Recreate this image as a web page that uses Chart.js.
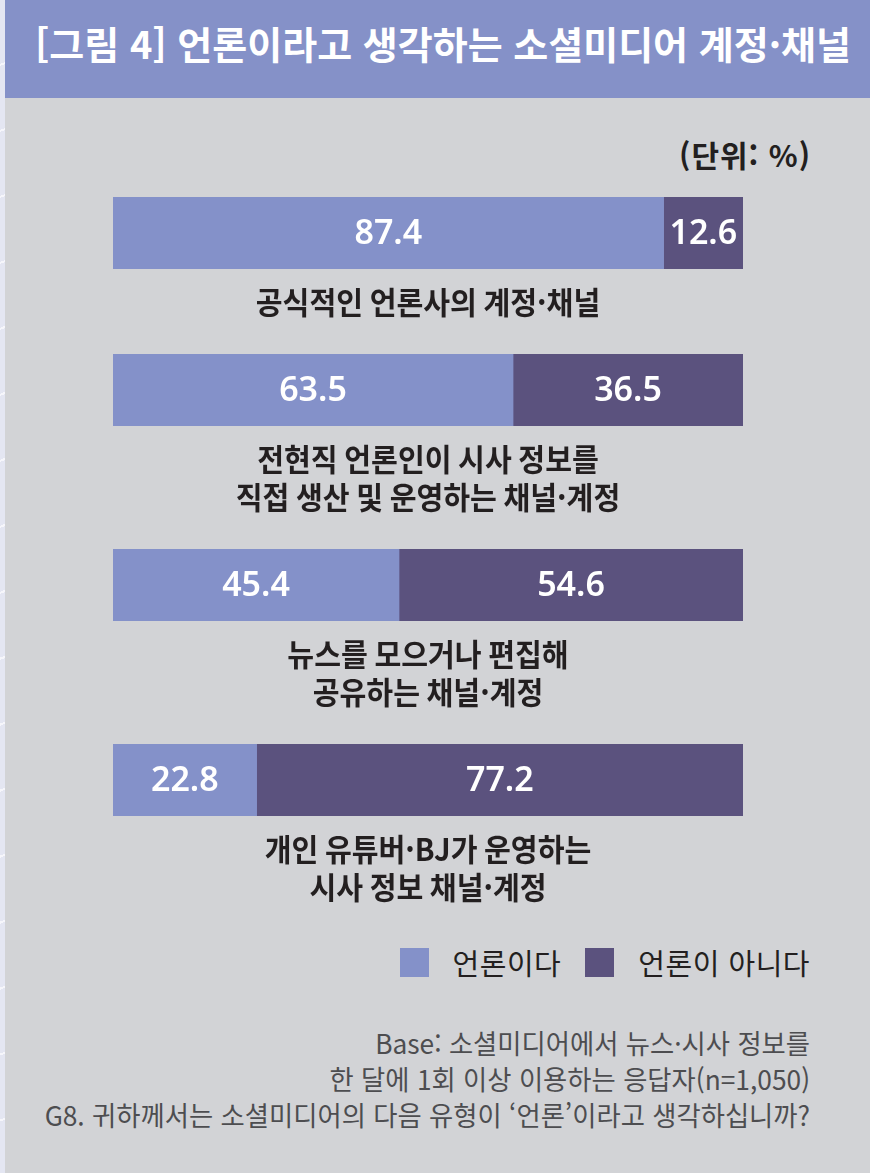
<!DOCTYPE html>
<html lang="ko">
<head>
<meta charset="utf-8">
<title>언론이라고 생각하는 소셜미디어 계정·채널</title>
<script src="https://cdn.jsdelivr.net/npm/chart.js@4.4.1/dist/chart.umd.min.js"></script>
<style>
  html, body { margin: 0; padding: 0; }
  body {
    width: 870px; height: 1173px; position: relative; overflow: hidden;
    background: #d2d3d6;
    font-family: "Noto Sans CJK KR", "Noto Sans", sans-serif;
    color: #231f20;
  }
  #stripe {
    position: absolute; left: 0; top: 0; width: 5px; height: 1173px;
    background: repeating-linear-gradient(160deg, #e4e6f2 0 60px, #f6f6fb 60px 62px);
  }
  #header {
    position: absolute; left: 5px; top: 0; width: 865px; height: 98px;
    background: #8591c8;
  }
  #title {
    position: absolute; left: 35px; top: 23px; line-height: 40px;
    font-size: 38px; font-weight: 700; color: #fff; white-space: nowrap;
  }
  #unit {
    position: absolute; right: 59px; top: 136px; line-height: 36px;
    font-size: 30px; font-weight: 700; letter-spacing: 1px;
  }
  #rows { position: absolute; left: 113px; top: 197px; width: 630px; }
  .row { position: relative; width: 630px; margin-bottom: 35px; }
  #legend {
    position: absolute; right: 60px; top: 945px; height: 34px;
    display: flex; align-items: center;
  }
  #legend .sw { width: 29px; height: 29px; margin-right: 24px; }
  #legend .tx { font-size: 29px; line-height: 34px; letter-spacing: 0.5px; margin-right: 24px; }
  #legend .tx:last-child { margin-right: 0; }
  #note {
    position: absolute; right: 60px; top: 1025px; text-align: right;
    color: #4d4d50; font-size: 27px; line-height: 36px;
    transform: scaleX(0.975); transform-origin: right;
  }
  #note div { white-space: nowrap; }
</style>
</head>
<body>
<div id="stripe"></div>
<div id="header"></div>
<div id="title">[그림 4] 언론이라고 생각하는 소셜미디어 계정·채널</div>
<div id="unit">(단위: %)</div>
<div id="rows"></div>
<div id="legend"></div>
<div id="note">
  <div>Base: 소셜미디어에서 뉴스·시사 정보를</div>
  <div>한 달에 1회 이상 이용하는 응답자(n=1,050)</div>
  <div>G8. 귀하께서는 소셜미디어의 다음 유형이 ‘언론’이라고 생각하십니까?</div>
</div>

<script>
// Chart data
const categories = [
    ['공식적인 언론사의 계정·채널'],
    ['전현직 언론인이 시사 정보를', '직접 생산 및 운영하는 채널·계정'],
    ['뉴스를 모으거나 편집해', '공유하는 채널·계정'],
    ['개인 유튜버·BJ가 운영하는', '시사 정보 채널·계정']
];
const seriesNames = ['언론이다', '언론이 아니다'];
const isPress = [87.4, 63.5, 45.4, 22.8];
const notPress = [12.6, 36.5, 54.6, 77.2];
const seriesColors = ['#8491c9', '#5b527e'];

const BAR_H = 72;
const LINE_H = 38;
const LABEL_GAP = 12;

// White value text in the middle of each segment
const valueLabels = {
    id: 'valueLabels',
    afterDatasetsDraw(chart) {
        const ctx = chart.ctx;
        ctx.save();
        ctx.fillStyle = '#ffffff';
        ctx.font = '600 34px "Noto Sans", sans-serif';
        ctx.textAlign = 'center';
        ctx.textBaseline = 'middle';
        chart.data.datasets.forEach((ds, di) => {
            chart.getDatasetMeta(di).data.forEach((bar, j) => {
                const c = bar.getCenterPoint();
                ctx.fillText(ds.data[j].toFixed(1), c.x, c.y + 1);
            });
        });
        ctx.restore();
    }
};

// Category name centred under the bar, one or two lines
const categoryLabel = {
    id: 'categoryLabel',
    afterDraw(chart) {
        const ctx = chart.ctx;
        const area = chart.chartArea;
        const lines = chart.data.labels[0];
        const cx = (area.left + area.right) / 2;
        ctx.save();
        ctx.fillStyle = '#231f20';
        ctx.font = '700 31px "Noto Sans CJK KR", sans-serif';
        ctx.textAlign = 'center';
        ctx.textBaseline = 'middle';
        lines.forEach((line, k) => {
            const w = ctx.measureText(line).width;
            ctx.fillText(line, cx, area.bottom + LABEL_GAP + LINE_H / 2 + 2 + k * LINE_H, w * 0.94);
        });
        ctx.restore();
    }
};

function makeBar(canvas, i) {
    return new Chart(canvas.getContext('2d'), {
        type: 'bar',
        data: {
            labels: [categories[i]],
            datasets: [isPress, notPress].map((values, s) => ({
                label: seriesNames[s],
                data: [values[i]],
                backgroundColor: seriesColors[s],
                borderWidth: 0,
                barPercentage: 1,
                categoryPercentage: 1
            }))
        },
        options: {
            indexAxis: 'y',
            responsive: true,
            maintainAspectRatio: false,
            animation: false,
            layout: { padding: { top: 0, left: 0, right: 0, bottom: LABEL_GAP + categories[i].length * LINE_H } },
            scales: {
                x: { stacked: true, min: 0, max: 100, display: false },
                y: { stacked: true, display: false }
            },
            plugins: {
                legend: { display: false },
                tooltip: { enabled: false }
            }
        },
        plugins: [valueLabels, categoryLabel]
    });
}

const rows = document.getElementById('rows');
categories.forEach((lines, i) => {
    const row = document.createElement('div');
    row.className = 'row';
    row.style.height = (BAR_H + LABEL_GAP + lines.length * LINE_H) + 'px';
    const canvas = document.createElement('canvas');
    row.appendChild(canvas);
    rows.appendChild(row);
    makeBar(canvas, i);
});

// Legend
const legend = document.getElementById('legend');
seriesNames.forEach((name, s) => {
    const sw = document.createElement('span');
    sw.className = 'sw';
    sw.style.background = seriesColors[s];
    const tx = document.createElement('span');
    tx.className = 'tx';
    tx.textContent = name;
    legend.appendChild(sw);
    legend.appendChild(tx);
});
</script>
</body>
</html>
